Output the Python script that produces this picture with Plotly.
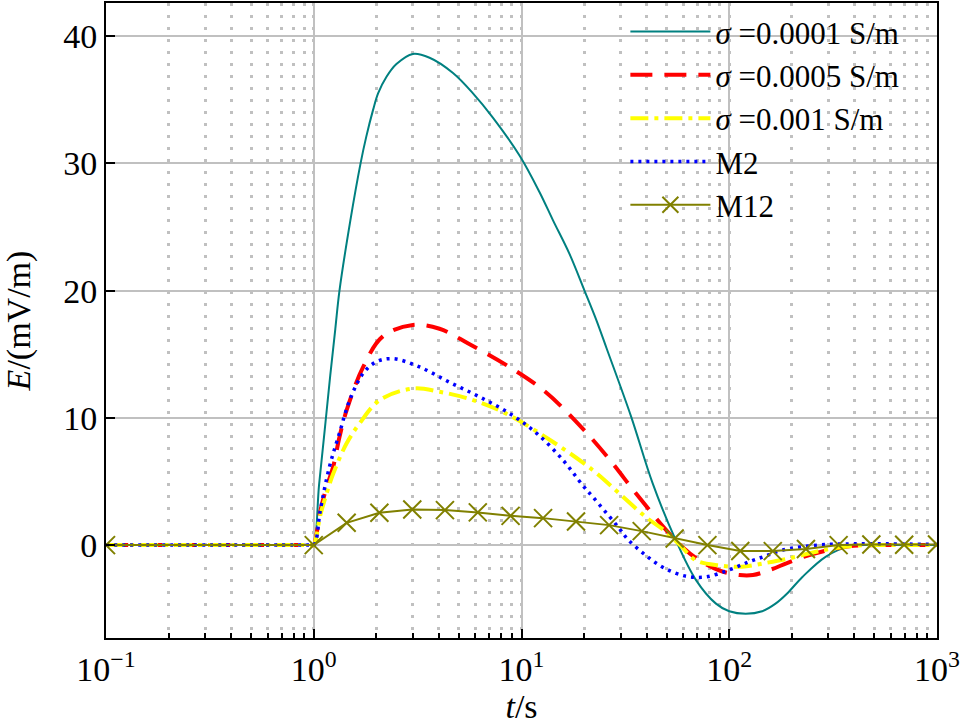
import plotly.graph_objects as go

# ---- data ----
t_s1 = [0.1, 0.5, 0.9, 0.98, 1.0, 1.06, 1.13, 1.2, 1.27, 1.33, 1.5, 1.68, 1.79, 1.93, 2.04, 2.24, 2.5,
        3.0, 3.61, 4.68, 5.84, 7.28, 9.8, 12.2, 14.2, 17.0, 20.1, 22.9, 25.7, 33.7, 42.8, 54.4,
        69.2, 86.3, 100, 120, 144, 167, 190, 225, 292, 378, 500, 700, 1000]
E_s1 = [0.0, 0.0, 0.0, 0.0, 0.0, 4.7, 9.1, 13.3, 17.0, 20.0, 25.5, 30.0, 32.1, 34.2, 35.5, 36.8, 37.8,
        38.6, 38.3, 37.1, 35.5, 33.6, 30.6, 27.75, 25.5, 22.9, 20.0, 17.7, 15.45, 10.1, 4.85, 0.65,
        -2.75, -4.6, -5.2, -5.4, -5.2, -4.6, -3.8, -2.5, -0.9, -0.1, 0.0, 0.0, 0.0]

t_s5 = [0.1, 0.5, 0.9, 0.98, 1.0, 1.03, 1.07, 1.15, 1.24, 1.33, 1.44, 1.73, 2.15, 3.0, 4.03, 5.6, 8.75, 12.9,
        18.7, 26.0, 35.6, 49.6, 60, 71.8, 90, 112, 130, 160, 187, 230, 281, 378, 500, 1000]
E_s5 = [0.0, 0.0, 0.0, 0.0, 0.0, 0.8, 2.5, 4.5, 6.15, 8.5, 10.6, 14.0, 16.4, 17.3, 17.0, 15.8, 14.0, 12.1,
        9.55, 6.9, 4.05, 1.2, -0.2, -1.2, -2.0, -2.35, -2.35, -1.9, -1.45, -0.9, -0.5, -0.1, 0.0, 0.0]

t_s10 = [0.1, 0.5, 0.9, 0.98, 1.0, 1.03, 1.07, 1.15, 1.24, 1.44, 1.66, 2.08, 3.0, 4.03, 5.84, 8.4, 14.2, 22.0,
         29.6, 39.7, 49.6, 58, 69.2, 90, 115, 150, 194, 250, 314, 400, 500, 1000]
E_s10 = [0.0, 0.0, 0.0, 0.0, 0.0, 0.7, 2.2, 4.0, 5.6, 8.0, 9.55, 11.4, 12.3, 12.05, 11.4, 10.35, 8.1, 5.9,
         4.05, 2.2, 1.05, 0.0, -1.2, -1.6, -1.7, -1.4, -1.05, -0.6, -0.26, -0.05, 0.0, 0.0]

t_m2 = [0.1, 0.5, 0.9, 0.98, 1.0, 1.03, 1.07, 1.19, 1.33, 1.49, 1.73, 2.0, 2.4, 3.23, 4.5, 6.28, 8.75, 11.8,
        15.8, 19.7, 22.0, 25.7, 29.6, 32.5, 39.6, 48.6, 62, 77, 100, 125, 150, 180, 265, 400, 1000]
E_m2 = [0.0, 0.0, 0.0, 0.0, 0.0, 0.5, 2.5, 6.15, 8.8, 11.4, 13.5, 14.4, 14.65, 14.0, 12.8, 11.65, 10.35, 8.8,
        6.7, 4.7, 3.8, 2.5, 1.3, 0.45, -0.8, -1.8, -2.45, -2.5, -1.95, -1.3, -0.85, -0.4, 0.0, 0.1, 0.05]

t_m12 = [0.1, 1.0, 1.44, 2.07, 2.98, 4.28, 6.16, 8.86, 12.7, 18.3, 26.4, 37.9, 54.6, 78.5,
         113, 162, 234, 336, 483, 695, 1000]
E_m12 = [0.0, 0.0, 1.75, 2.54, 2.8, 2.75, 2.57, 2.3, 2.12, 1.86, 1.57, 1.1, 0.52, 0.0,
         -0.46, -0.47, -0.31, 0.0, 0.05, 0.03, 0.05]

names = ["<i>σ</i> =0.0001 S/m", "<i>σ</i> =0.0005 S/m", "<i>σ</i> =0.001 S/m", "M2", "M12"]
x_tickvals = [0.1, 1, 10, 100, 1000]
x_ticktext = ["10<sup>−1</sup>", "10<sup>0</sup>", "10<sup>1</sup>", "10<sup>2</sup>", "10<sup>3</sup>"]
y_tickvals = [0, 10, 20, 30, 40]

FONT = "Liberation Serif"
FS = 34
SM = 1.0

fig = go.Figure()
fig.add_trace(go.Scatter(x=t_s1, y=E_s1, name=names[0], mode="lines",
                         line=dict(color="#008080", width=2, shape="spline", smoothing=SM)))
fig.add_trace(go.Scatter(x=t_s5, y=E_s5, name=names[1], mode="lines",
                         line=dict(color="#ff0000", width=4, dash="22px,12px", shape="spline", smoothing=SM)))
fig.add_trace(go.Scatter(x=t_s10, y=E_s10, name=names[2], mode="lines",
                         line=dict(color="#ffff00", width=4, dash="18px,6px,4px,6px", shape="spline", smoothing=SM)))
fig.add_trace(go.Scatter(x=t_m2, y=E_m2, name=names[3], mode="lines",
                         line=dict(color="#0000ff", width=3.5, dash="3px,5px", shape="spline", smoothing=SM)))
fig.add_trace(go.Scatter(x=t_m12, y=E_m12, name=names[4], mode="lines+markers",
                         line=dict(color="#808000", width=2),
                         marker=dict(symbol="x-thin", size=18, color="#808000",
                                     line=dict(color="#808000", width=2))))

fig.update_layout(
    width=962, height=725,
    margin=dict(l=106, r=25, t=3, b=87, autoexpand=False),
    paper_bgcolor="white", plot_bgcolor="white",
    font=dict(family=FONT, size=FS, color="black"),
    showlegend=True,
    legend=dict(x=0.625, y=0.997, xanchor="left", yanchor="top",
                bgcolor="rgba(0,0,0,0)", borderwidth=0,
                font=dict(family=FONT, size=31, color="black"),
                itemwidth=80, tracegroupgap=0),
)

fig.update_xaxes(
    type="log", range=[-1, 3], automargin=False,
    tickmode="array", tickvals=x_tickvals, ticktext=x_ticktext,
    ticks="inside", ticklen=9, tickwidth=2, tickcolor="black",
    showline=True, linecolor="black", linewidth=2, mirror=True,
    showgrid=True, gridcolor="#c0c0c0", gridwidth=2,
    minor=dict(dtick="D1", ticks="inside", ticklen=5, tickwidth=2, tickcolor="black",
               showgrid=True, gridcolor="#c0c0c0", gridwidth=3, griddash="3px,9px"),
    tickfont=dict(family=FONT, size=FS),
    title=dict(text="<i>t</i>/s", font=dict(family=FONT, size=FS), standoff=0),
    zeroline=False,
)
fig.update_yaxes(
    range=[-7.3, 42.6], automargin=False,
    tickmode="array", tickvals=y_tickvals,
    ticks="inside", ticklen=9, tickwidth=2, tickcolor="black",
    showline=True, linecolor="black", linewidth=2, mirror=True,
    showgrid=True, gridcolor="#c0c0c0", gridwidth=2,
    tickfont=dict(family=FONT, size=FS),
    title=dict(text="<i>E</i>/(mV/m)", font=dict(family=FONT, size=FS), standoff=26),
    zeroline=False,
)

fig.write_html("out.html", config={"displayModeBar": False})

# remove the browser's default page margin so the figure sits at the window's corner
with open("out.html", "r", encoding="utf-8") as f:
    html = f.read()
html = html.replace("<head>", "<head><style>html,body{margin:0;padding:0;overflow:hidden;}</style>", 1)
with open("out.html", "w", encoding="utf-8") as f:
    f.write(html)
